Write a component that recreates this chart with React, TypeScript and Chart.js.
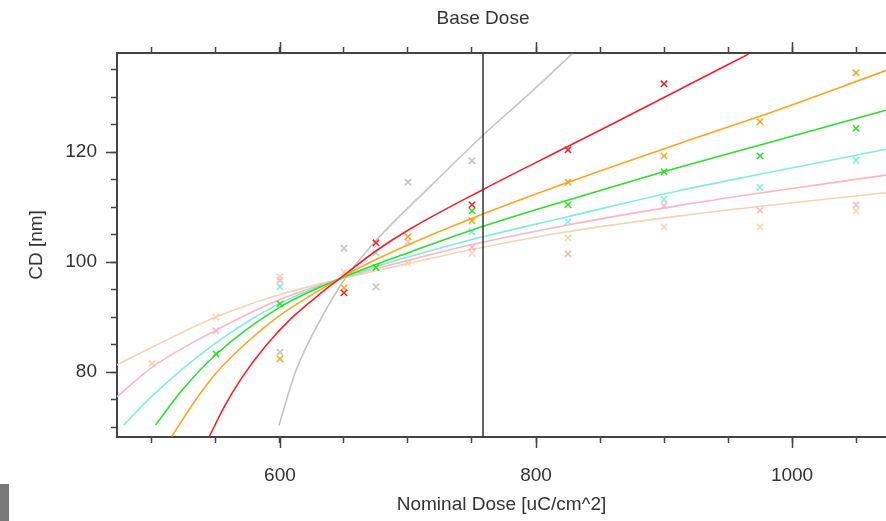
import React, { useEffect, useRef } from 'react';
import { Chart, registerables } from 'chart.js';

Chart.register(...registerables);

// ---- axes ----
const xMin = 472.7;
const xMax = 1073.4;
const yMin = 68.2;
const yMax = 138;
const xTicks = [500, 550, 600, 650, 700, 750, 800, 850, 900, 950, 1000, 1050];
const xLabeled = [600, 800, 1000];
const yTicks = [70, 75, 80, 85, 90, 95, 100, 105, 110, 115, 120, 125, 130, 135];
const yLabeled = [80, 100, 120];
const baseDose = 758.6;

// ---- measured points (dose, CD) ----
const grayDose = [600, 650, 675, 700, 750];
const grayCD = [83.6, 102.5, 95.5, 114.5, 118.4];
const redDose = [650, 675, 750, 825, 900];
const redCD = [94.4, 103.5, 110.4, 120.4, 132.4];
const orangeDose = [600, 650, 700, 750, 825, 900, 975, 1050];
const orangeCD = [82.4, 95.3, 104.6, 107.5, 114.5, 119.3, 125.5, 134.4];
const greenDose = [550, 600, 675, 750, 825, 900, 975, 1050];
const greenCD = [83.3, 92.4, 99.0, 109.3, 110.4, 116.4, 119.3, 124.3];
const cyanDose = [600, 675, 750, 825, 900, 975, 1050];
const cyanCD = [95.5, 101.7, 105.5, 107.3, 111.4, 113.6, 118.5];
const pinkDose = [550, 600, 700, 750, 825, 900, 975, 1050];
const pinkCD = [87.5, 96.7, 103.7, 102.7, 101.5, 110.2, 109.4, 110.4];
const peachDose = [500, 550, 600, 650, 700, 750, 825, 900, 975, 1050];
const peachCD = [81.6, 90.0, 97.3, 98.2, 99.8, 101.6, 104.4, 106.4, 106.4, 109.3];

// ---- fitted curves (dose, CD) ----
const grayFitDose = [599.2, 611.7, 618.2, 633.9, 649.5, 670.3, 696.3, 719.8, 758.8, 795.3, 828];
const grayFitCD = [70.3, 79.8, 83.4, 90.5, 96.5, 102.7, 109.0, 114.3, 123.1, 130.7, 137.8];
const redFitDose = [544.8, 557, 570, 588.3, 609, 633.9, 645, 675.5, 701.6, 758.8, 824, 860.4, 912.5, 966];
const redFitCD = [68.3, 73.9, 78.9, 84.6, 89.8, 94.7, 96.7, 102.1, 106.0, 113.2, 120.9, 125.2, 131.4, 137.8];
const orangeFitDose = [515.4, 536.2, 550, 575.2, 600, 645, 675.5, 701.6, 748.4, 824, 912.5, 973.7, 1073.4];
const orangeFitCD = [68.3, 75.6, 79.8, 85.6, 90.3, 96.8, 100.5, 103.3, 107.8, 114.4, 121.6, 126.4, 134.8];
const greenFitDose = [502.9, 523.2, 550, 600, 645, 675.5, 701.6, 748.4, 824, 899.5, 973.7, 1073.4];
const greenFitCD = [70.4, 76.6, 83.2, 91.8, 96.8, 99.6, 101.8, 105.7, 111.2, 116.4, 121.2, 127.6];
const cyanFitDose = [478, 500.8, 550, 600, 645, 675.5, 701.6, 748.4, 824, 912.5, 973.7, 1073.4];
const cyanFitCD = [70.4, 75.8, 85.3, 92.5, 96.8, 99.2, 101.0, 104.0, 108.2, 113.0, 115.9, 120.5];
const pinkFitDose = [472.7, 500.8, 550, 600, 645, 701.6, 748.4, 824, 912.5, 973.7, 1073.4];
const pinkFitCD = [75.5, 81.0, 87.6, 93.2, 96.8, 100.4, 103.1, 106.7, 110.3, 112.5, 115.8];
const peachFitDose = [472.7, 500.8, 550, 600, 645, 701.6, 748.4, 824, 912.5, 973.7, 1073.4];
const peachFitCD = [81.3, 84.6, 90.0, 94.1, 96.8, 99.8, 102.2, 105.5, 108.4, 110.1, 112.6];

const axisColor = '#444444';
const textColor = '#333333';
const fontFamily = "'Liberation Sans', Arial, sans-serif";

const pts = (xs: number[], ys: number[]) => xs.map((x, i) => ({ x, y: ys[i] }));

const seriesDefs = [
  { name: 'red', color: '#fa1e28', fx: redFitDose, fy: redFitCD, mx: redDose, my: redCD },
  { name: 'orange', color: '#ffa41c', fx: orangeFitDose, fy: orangeFitCD, mx: orangeDose, my: orangeCD },
  { name: 'green', color: '#28e028', fx: greenFitDose, fy: greenFitCD, mx: greenDose, my: greenCD },
  { name: 'cyan', color: '#80eedb', fx: cyanFitDose, fy: cyanFitCD, mx: cyanDose, my: cyanCD },
  { name: 'pink', color: '#ffb4c4', fx: pinkFitDose, fy: pinkFitCD, mx: pinkDose, my: pinkCD },
  { name: 'peach', color: '#f6d4b0', fx: peachFitDose, fy: peachFitCD, mx: peachDose, my: peachCD },
  { name: 'gray', color: '#c4c4c4', fx: grayFitDose, fy: grayFitCD, mx: grayDose, my: grayCD },
];

const majorTicksPlugin = {
  id: 'majorTicks',
  afterDraw(chart: any) {
    const { ctx, chartArea, scales } = chart;
    ctx.save();
    ctx.strokeStyle = axisColor;
    ctx.lineWidth = 1.5;
    ctx.beginPath();
    xLabeled.forEach((v) => {
      const px = Math.round(scales.x.getPixelForValue(v)) + 0.5;
      ctx.moveTo(px, chartArea.bottom);
      ctx.lineTo(px, chartArea.bottom + 11);
      ctx.moveTo(px, chartArea.top);
      ctx.lineTo(px, chartArea.top - 11);
    });
    yLabeled.forEach((v) => {
      const py = Math.round(scales.y.getPixelForValue(v)) + 0.5;
      ctx.moveTo(chartArea.left, py);
      ctx.lineTo(chartArea.left - 11, py);
    });
    ctx.stroke();
    ctx.restore();
  },
};

export default function App() {
  const canvasRef = useRef<HTMLCanvasElement | null>(null);

  useEffect(() => {
    if (!canvasRef.current) return;
    const datasets: any[] = [];
    datasets.push({
      label: 'Base Dose',
      data: [{ x: baseDose, y: yMin }, { x: baseDose, y: yMax }],
      showLine: true,
      borderColor: '#333333',
      borderWidth: 1.5,
      pointRadius: 0,
    });
    seriesDefs.forEach((s) => {
      datasets.push({
        label: s.name + ' points',
        data: pts(s.mx, s.my),
        showLine: false,
        pointStyle: 'crossRot',
        pointRadius: 4.5,
        pointBorderWidth: 1.5,
        borderColor: s.color,
        backgroundColor: s.color,
      });
      datasets.push({
        label: s.name + ' fit',
        data: pts(s.fx, s.fy),
        showLine: true,
        cubicInterpolationMode: 'monotone',
        borderColor: s.color,
        borderWidth: 1.6,
        pointRadius: 0,
      });
    });

    const tickGrid = {
      drawOnChartArea: false,
      drawTicks: true,
      tickLength: 6,
      tickColor: axisColor,
      tickWidth: 1.5,
    };

    const chart = new Chart(canvasRef.current, {
      type: 'scatter',
      data: { datasets },
      options: {
        animation: false,
        responsive: false,
        devicePixelRatio: 1,
        layout: { padding: 0, autoPadding: false },
        plugins: { legend: { display: false }, tooltip: { enabled: false } },
        scales: {
          x: {
            type: 'linear',
            position: 'bottom',
            min: xMin,
            max: xMax,
            afterBuildTicks: (scale: any) => {
              scale.ticks = xTicks.map((v) => ({ value: v }));
            },
            afterFit: (scale: any) => {
              scale.height = 84;
            },
            ticks: {
              autoSkip: false,
              maxRotation: 0,
              padding: 21,
              color: textColor,
              font: { family: fontFamily, size: 19 },
              callback: (v: any) => (xLabeled.includes(Number(v)) ? String(v) : ''),
            },
            grid: tickGrid,
            border: { display: true, color: axisColor, width: 2 },
            title: {
              display: true,
              text: 'Nominal Dose [uC/cm^2]',
              color: textColor,
              font: { family: fontFamily, size: 19 },
              padding: { top: 0, bottom: 5 },
            },
          },
          x2: {
            type: 'linear',
            position: 'top',
            min: xMin,
            max: xMax,
            afterBuildTicks: (scale: any) => {
              scale.ticks = xTicks.map((v) => ({ value: v }));
            },
            afterFit: (scale: any) => {
              scale.height = 53;
            },
            ticks: { display: false },
            grid: tickGrid,
            border: { display: true, color: axisColor, width: 2 },
          },
          y: {
            type: 'linear',
            position: 'left',
            min: yMin,
            max: yMax,
            afterBuildTicks: (scale: any) => {
              scale.ticks = yTicks.map((v) => ({ value: v }));
            },
            afterFit: (scale: any) => {
              scale.width = 117;
            },
            ticks: {
              autoSkip: false,
              padding: 14,
              color: textColor,
              font: { family: fontFamily, size: 19 },
              callback: (v: any) => (yLabeled.includes(Number(v)) ? String(v) : ''),
            },
            grid: tickGrid,
            border: { display: true, color: axisColor, width: 2 },
            title: {
              display: true,
              text: 'CD [nm]',
              color: textColor,
              font: { family: fontFamily, size: 19 },
              padding: { top: 25, bottom: 0 },
            },
          },
        },
      } as any,
      plugins: [majorTicksPlugin],
    });
    return () => chart.destroy();
  }, []);

  return (
    <div
      style={{
        position: 'absolute',
        left: 0,
        top: 0,
        width: 886,
        height: 521,
        overflow: 'hidden',
        background: '#ffffff',
      }}
    >
      <canvas ref={canvasRef} width={886} height={521} style={{ width: 886, height: 521, display: 'block' }} />
      <div
        style={{
          position: 'absolute',
          left: 383,
          top: 7,
          width: 200,
          textAlign: 'center',
          fontFamily: fontFamily,
          fontSize: 19,
          lineHeight: '22px',
          color: textColor,
        }}
      >
        Base Dose
      </div>
      <div
        style={{
          position: 'absolute',
          left: 0,
          top: 484,
          width: 9,
          height: 37,
          background: '#787878',
        }}
      />
    </div>
  );
}
